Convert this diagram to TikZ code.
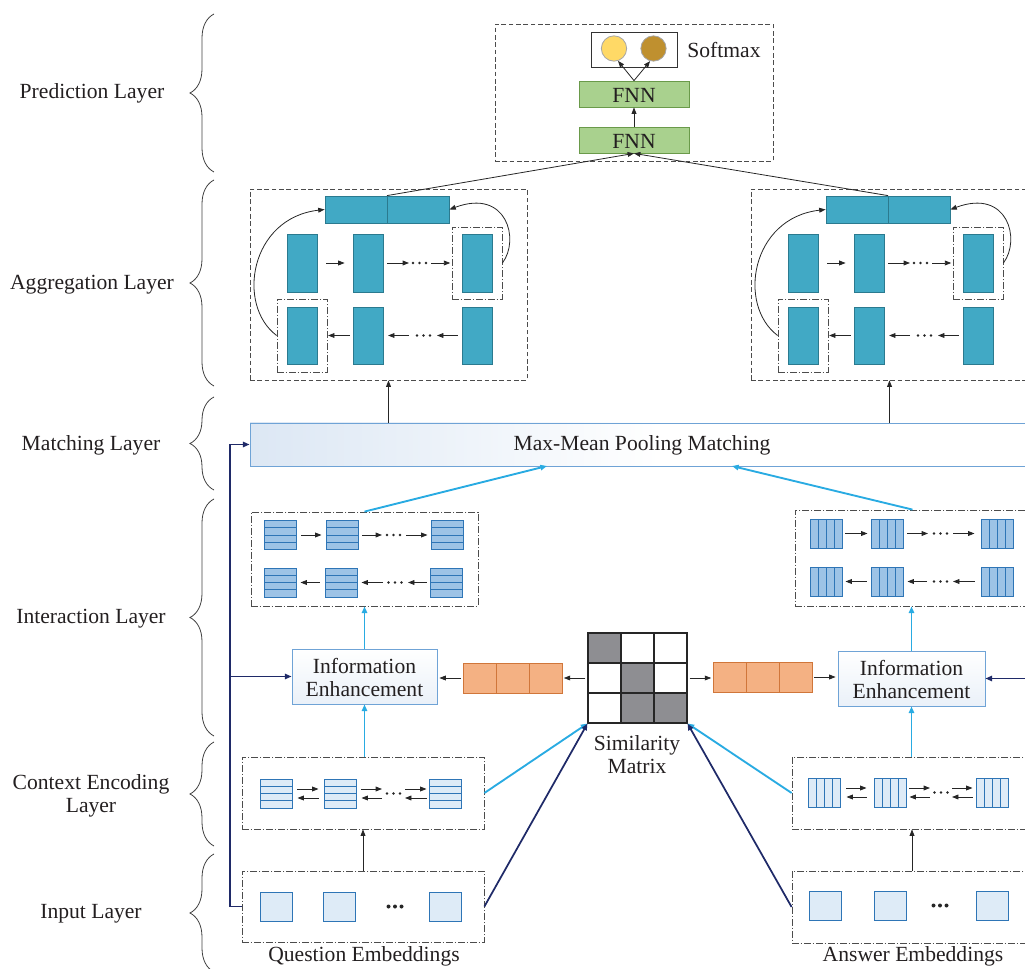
\documentclass[tikz,border=0pt]{standalone}
\usepackage{fontspec}
\setmainfont{Liberation Serif}
\usetikzlibrary{arrows.meta,fit,calc,decorations.pathreplacing}
\definecolor{tealF}{HTML}{41A9C5}
\definecolor{tealB}{HTML}{2B7A8F}
\definecolor{icF}{HTML}{9DC3E6}
\definecolor{icL}{HTML}{DEEBF7}
\definecolor{icB}{HTML}{2E75B6}
\definecolor{orF}{HTML}{F4B183}
\definecolor{orB}{HTML}{D0763A}
\definecolor{fnF}{HTML}{A9D18E}
\definecolor{fnB}{HTML}{6A9A4A}
\definecolor{yel}{HTML}{FFD966}
\definecolor{brn}{HTML}{BF902F}
\definecolor{cyanA}{HTML}{29ABE2}
\definecolor{navyA}{HTML}{1F2A68}
\definecolor{matG}{HTML}{8E8E92}
\definecolor{ieB}{HTML}{6FA3D6}
\definecolor{ieF}{HTML}{DCE7F4}
\definecolor{txt}{HTML}{231F20}
\newcommand\fs{\fontsize{16.2}{17.3}\selectfont}
\tikzset{
  box/.style={inner sep=0pt, line width=0.6pt},
  dashbox/.style={box, draw=black!70, dash pattern=on 3.5pt off 2pt},
  ddbox/.style={box, draw=black!70, dash pattern=on 5pt off 1.5pt on 1pt off 1.5pt},
  tealbox/.style={box, fill=tealF, draw=tealB},
  fnnbox/.style={box, fill=fnF, draw=fnB},
  arr/.style={-{Triangle[length=4.8pt,width=3.6pt]}, line width=0.6pt, black!85},
  cyarr/.style={-{Triangle[length=5pt,width=4pt]}, line width=1.4pt, cyanA},
  nvarr/.style={-{Triangle[length=5pt,width=4pt]}, line width=1.3pt, navyA},
  lbl/.style={inner sep=0pt, align=center, text=txt},
  bracestyle/.style={decorate, decoration={brace, amplitude=18pt}, line width=0.6pt, black!75},
}
\newcommand\hicon[4]{%
  \node[box, draw=icB, fill=#4, line width=0.7pt, fit={(#2,#3) ({#2+32},{#3+29})}] (#1) {};
  \foreach \k in {7.25,14.5,21.75} {\draw[icB, line width=0.7pt] (#2,{#3+\k}) -- ({#2+32},{#3+\k});}}
\newcommand\vicon[4]{%
  \node[box, draw=icB, fill=#4, line width=0.7pt, fit={(#2,#3) ({#2+32},{#3+29})}] (#1) {};
  \foreach \k in {8,16,24} {\draw[icB, line width=0.7pt] ({#2+\k},#3) -- ({#2+\k},{#3+29});}}
\newcommand\sqicon[3]{%
  \node[box, draw=icB, fill=icL, line width=0.7pt, fit={(#2,#3) ({#2+32},{#3+29})}] (#1) {};}
\newcommand\tdots[3]{\foreach \d in {-6.5,0,6.5} {\fill[black!85] ({#1+\d},#2) circle (#3);}}
\newcommand\dbl[2]{%
  \draw[arr] ($(#1)+(0,-4.5)$) -- ($(#2)+(0,-4.5)$);
  \draw[arr] ($(#2)+(0,4.5)$) -- ($(#1)+(0,4.5)$);}
\begin{document}
\begin{tikzpicture}[x=0.75pt,y=-0.75pt,font=\fs]
\useasboundingbox (0,0) rectangle (1025,969);
\clip (0,0) rectangle (1025,969);

% ---------- left labels and braces ----------
\node[lbl] (tP) at (92,93) {Prediction Layer};
\node[lbl] (tA) at (92,285) {Aggregation Layer};
\node[lbl] (tM) at (91,445) {Matching Layer};
\node[lbl] (tI) at (91,619) {Interaction Layer};
\node[lbl] (tC) at (91,796) {Context Encoding\\Layer};
\node[lbl] (tN) at (91,914) {Input Layer};
\draw[bracestyle] (214,172) -- (214,14);
\draw[bracestyle] (214,386) -- (214,180);
\draw[bracestyle] (214,490) -- (214,397);
\draw[bracestyle] (214,736) -- (214,499);
\draw[bracestyle] (214,846) -- (214,742);
\draw[bracestyle] (214,972) -- (214,854);

% ---------- prediction ----------
\node[dashbox, fit={(495,24) (773,161)}] (pred) {};
\node[box, draw=black!80, fit={(591,32) (677,67)}] (smbox) {};
\node[circle, inner sep=0pt, minimum size=19pt, fill=yel, draw=black!35, line width=0.6pt] (c1) at (614,48.5) {};
\node[circle, inner sep=0pt, minimum size=19pt, fill=brn, draw=black!35, line width=0.6pt] (c2) at (653.5,48.5) {};
\node[lbl] (smtxt) at (724,50) {Softmax};
\node[fnnbox, fit={(579,81) (689,107)}] (fnn2) {};
\node[lbl] (fnn2t) at (634,95) {FNN};
\node[fnnbox, fit={(579,127) (689,153)}] (fnn1) {};
\node[lbl] (fnn1t) at (634,141) {FNN};
\draw[arr] (fnn1) -- (fnn2);
\draw[arr] (fnn2.north) -- (c1.-72);
\draw[arr] (fnn2.north) -- (c2.-105);

% ---------- matching ----------
\shade[left color=ieF, right color=white] (250,423) rectangle (660,466);
\node[box, draw=ieB, fit={(250,423) (1034,466)}] (match) {};
\node[lbl] (matcht) at (642,445.5) {Max-Mean Pooling Matching};

% ---------- aggregation ----------
\foreach \ox/\s in {0/L,501/R}{
  \node[dashbox, fit={({250+\ox},189) ({527+\ox},380)}] (agg\s) {};
  \node[tealbox, fit={({325+\ox},196) ({449+\ox},223)}] (tb\s) {};
  \draw[tealB, line width=0.6pt] (tb\s.north) -- (tb\s.south);
  \foreach \c/\xx in {1/287,2/353,3/462}{
    \node[tealbox, fit={({\xx+\ox},234) ({\xx+30+\ox},292)}] (ra\c\s) {};
    \node[tealbox, fit={({\xx+\ox},307) ({\xx+30+\ox},364)}] (rb\c\s) {};
  }
  \node[ddbox, fit={({452+\ox},227) ({502+\ox},299)}] (dda\s) {};
  \node[ddbox, fit={({277+\ox},299) ({327+\ox},372)}] (ddb\s) {};
  % row 1
  \draw[arr, shorten <=6.5pt, shorten >=6pt] (ra1\s) -- (ra2\s);
  \coordinate (ga\s) at ({409+\ox},263);
  \coordinate (ha\s) at ({431+\ox},263);
  \draw[arr, shorten <=3pt] (ra2\s.east) -- (ga\s);
  \tdots{419.5+\ox}{263}{0.95pt}
  \draw[arr, shorten >=1pt] (ha\s) -- (dda\s.west);
  % row 2
  \draw[arr, shorten <=2pt, shorten >=0.5pt] (rb2\s.west) -- (ddb\s.east);
  \coordinate (gb\s) at ({437+\ox},335.5);
  \coordinate (hb\s) at ({409+\ox},335.5);
  \draw[arr, shorten <=3pt] (rb3\s.west) -- (gb\s);
  \tdots{423.5+\ox}{335.5}{0.95pt}
  \draw[arr, shorten >=3.5pt] (hb\s) -- (rb2\s.east);
  % curves
  \draw[arr] (ddb\s.west) .. controls ({236+\ox},305) and ({250+\ox},218) .. (tb\s.west);
  \draw[arr] (dda\s.east) .. controls ({520+\ox},240) and ({507+\ox},188) .. (tb\s.east);
  % up to FNN
  \draw[arr] (tb\s.north) -- (fnn1.south);
  % from matching
  \draw[arr] (agg\s.south |- match.north) -- (agg\s.south);
}

% ---------- interaction ----------
\node[ddbox, fit={(251,512) (478,606)}] (intL) {};
\node[ddbox, fit={(795,510) (1030,606)}] (intR) {};
\hicon{ia1}{264}{520.5}{icF}
\hicon{ia2}{326}{520.5}{icF}
\hicon{ia3}{431}{520.5}{icF}
\hicon{ib1}{264}{568}{icF}
\hicon{ib2}{325}{568}{icF}
\hicon{ib3}{430}{568}{icF}
\draw[arr, shorten <=3.75pt, shorten >=3pt] (ia1) -- (ia2);
\coordinate (iga) at (382,535);
\coordinate (iha) at (406,535);
\draw[arr, shorten <=3pt] (ia2.east) -- (iga);
\tdots{393.5}{535}{0.95pt}
\draw[arr, shorten >=2.25pt] (iha) -- (ia3.west);
\draw[arr, shorten <=3.5pt, shorten >=3pt] (ib2) -- (ib1);
\coordinate (igb) at (408,582.5);
\coordinate (ihb) at (383,582.5);
\draw[arr, shorten <=2.25pt] (ib3.west) -- (igb);
\tdots{395}{582.5}{0.95pt}
\draw[arr, shorten >=3pt] (ihb) -- (ib2.east);

\vicon{ja1}{810}{519}{icF}
\vicon{ja2}{871}{519}{icF}
\vicon{ja3}{981}{519}{icF}
\vicon{jb1}{810}{567}{icF}
\vicon{jb2}{871}{567}{icF}
\vicon{jb3}{981}{567}{icF}
\draw[arr, shorten <=2.25pt, shorten >=2.25pt] (ja1) -- (ja2);
\coordinate (jga) at (928,533.5);
\coordinate (jha) at (953,533.5);
\draw[arr, shorten <=3pt] (ja2.east) -- (jga);
\tdots{940.5}{533.5}{0.95pt}
\draw[arr, shorten >=4.5pt] (jha) -- (ja3.west);
\draw[arr, shorten <=3pt, shorten >=2.25pt] (jb2) -- (jb1);
\coordinate (jgb) at (953,581.5);
\coordinate (jhb) at (927,581.5);
\draw[arr, shorten <=4.5pt] (jb3.west) -- (jgb);
\tdots{940.5}{581.5}{0.95pt}
\draw[arr, shorten >=3pt] (jhb) -- (jb2.east);

% ---------- information enhancement ----------
\node[box, draw=ieB, top color=white, bottom color=ieF!60, fit={(292,649) (437,704)}] (ieL) {};
\node[lbl] (ieLt) at (364.5,677.5) {Information\\Enhancement};
\node[box, draw=ieB, top color=white, bottom color=ieF!60, fit={(838,651) (985,706)}] (ieR) {};
\node[lbl] (ieRt) at (911.5,679.5) {Information\\Enhancement};

% ---------- orange vectors ----------
\node[box, fill=orF, draw=orB, line width=0.7pt, fit={(463,663) (562,693)}] (oL) {};
\draw[orB, line width=0.7pt] (496,663) -- (496,693) (529,663) -- (529,693);
\node[box, fill=orF, draw=orB, line width=0.7pt, fit={(713,662) (812,692)}] (oR) {};
\draw[orB, line width=0.7pt] (746,662) -- (746,692) (779,662) -- (779,692);

% ---------- similarity matrix ----------
\fill[matG] (588,633) rectangle (621,663);
\fill[matG] (621,663) rectangle (654,723);
\fill[matG] (654,693) rectangle (687,723);
\draw[black!85, line width=0.8pt] (621,633) -- (621,723) (654,633) -- (654,723)
      (588,663) -- (687,663) (588,693) -- (687,693);
\node[box, draw=black!85, line width=0.8pt, fit={(588,633) (687,723)}] (mat) {};
\node[lbl] (simt) at (637,755) {Similarity\\Matrix};

\draw[arr, shorten <=1.5pt, shorten >=1pt] (mat.west) -- (mat.west -| oL.east);
\draw[arr, shorten <=1pt, shorten >=1.5pt] (oL.west) -- (oL.west -| ieL.east);
\draw[arr, shorten <=1.5pt, shorten >=1pt] (mat.east) -- (mat.east -| oR.west);
\draw[arr, shorten <=1.5pt, shorten >=1.5pt] (oR.east) -- (oR.east -| ieR.west);

% ---------- context encoding ----------
\node[ddbox, fit={(242,757) (484,829)}] (ctxL) {};
\node[ddbox, fit={(792,757) (1032,829)}] (ctxR) {};
\hicon{ca1}{260}{779}{icL}
\hicon{ca2}{324}{779}{icL}
\hicon{ca3}{429}{779}{icL}
\coordinate (q1) at ($(ca1.east)+(5,0)$);
\coordinate (q2) at ($(ca2.west)+(-5,0)$);
\coordinate (q3) at ($(ca2.east)+(5,0)$);
\coordinate (q4) at (382,793.5);
\coordinate (q5) at (405,793.5);
\coordinate (q6) at ($(ca3.west)+(-2,0)$);
\dbl{q1}{q2}
\dbl{q3}{q4}
\tdots{393.5}{793.5}{0.95pt}
\dbl{q5}{q6}

\vicon{cb1}{808}{778}{icL}
\vicon{cb2}{874}{778}{icL}
\vicon{cb3}{976}{778}{icL}
\coordinate (r1) at ($(cb1.east)+(6,0)$);
\coordinate (r2) at ($(cb2.west)+(-7,0)$);
\coordinate (r3) at ($(cb2.east)+(3,0)$);
\coordinate (r4) at (930,792.5);
\coordinate (r5) at (952,792.5);
\coordinate (r6) at ($(cb3.west)+(-3,0)$);
\dbl{r1}{r2}
\dbl{r3}{r4}
\tdots{941}{792.5}{0.95pt}
\dbl{r5}{r6}

% ---------- input ----------
\node[ddbox, fit={(242,871) (484,942)}] (inL) {};
\node[ddbox, fit={(792,871) (1032,943)}] (inR) {};
\sqicon{sa1}{260}{892}
\sqicon{sa2}{323}{892}
\sqicon{sa3}{429}{892}
\tdots{395}{906.5}{1.5pt}
\sqicon{sb1}{809}{891}
\sqicon{sb2}{874}{891}
\sqicon{sb3}{976}{891}
\tdots{940}{905.5}{1.5pt}
\node[lbl] (qe) at (364,956) {Question Embeddings};
\node[lbl] (ae) at (913,956) {Answer Embeddings};

\draw[arr] (inL.north) -- (inL.north |- ctxL.south);
\draw[arr] (inR.north) -- (inR.north |- ctxR.south);

% ---------- blue connectors ----------
\draw[cyarr] (ctxL.north -| ieL.north) -- (ieL.south);
\draw[cyarr] (ieL.north) -- (ieL.north |- intL.south);
\draw[cyarr] (ctxR.north -| ieR.north) -- (ieR.south);
\draw[cyarr] (ieR.north) -- (ieR.north |- intR.south);
\coordinate (mt1) at (547,466);
\coordinate (mt2) at (732,466);
\draw[cyarr] (intL.north) -- (mt1);
\draw[cyarr] (intR.north) -- (mt2);
\draw[cyarr] (ctxL.east) -- (mat.south west);
\draw[cyarr] (ctxR.west) -- (mat.south east);

% ---------- navy connectors ----------
\coordinate (nvx) at (230,0);
\coordinate (nvr) at (1040,0);
\draw[nvarr] (inL.west) -- (inL.west -| nvx) |- (match.west);
\draw[nvarr] (ieL.west -| nvx) -- (ieL.west);
\draw[nvarr] (ieR.east -| nvr) -- (ieR.east);
\draw[nvarr] (inL.east) -- (mat.south west);
\draw[nvarr] (inR.west) -- (mat.south east);
\end{tikzpicture}
\end{document}
